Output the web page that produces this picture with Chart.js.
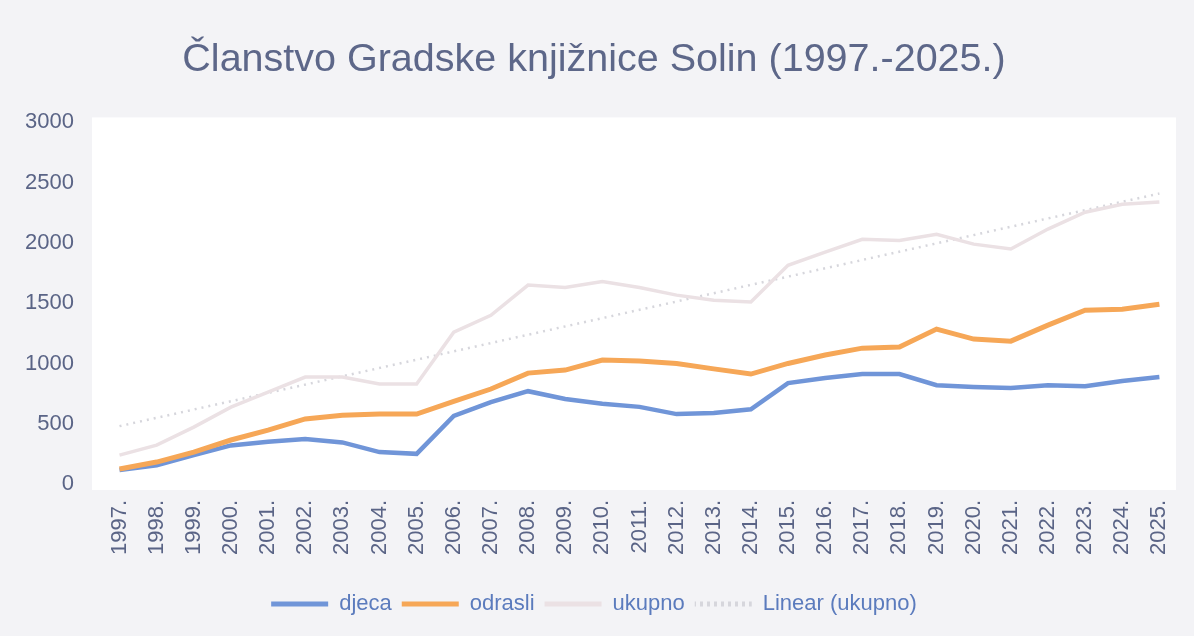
<!DOCTYPE html>
<html>
<head>
<meta charset="utf-8">
<script src="https://cdn.jsdelivr.net/npm/chart.js@4.4.1/dist/chart.umd.min.js"></script>
<style>
  html, body { margin: 0; padding: 0; background: #f3f3f6; }
  #wrap { width: 1194px; height: 636px; }
</style>
</head>
<body>
<div id="wrap"><canvas id="chart" width="1194" height="636"></canvas></div>
<script>
// godine
const years = ['1997.', '1998.', '1999.', '2000.', '2001.', '2002.', '2003.', '2004.', '2005.', '2006.',
  '2007.', '2008.', '2009.', '2010.', '2011.', '2012.', '2013.', '2014.', '2015.', '2016.',
  '2017.', '2018.', '2019.', '2020.', '2021.', '2022.', '2023.', '2024.', '2025.'];

const djeca = [116, 155, 240, 320, 350, 373, 345, 265, 250, 565,
  680, 770, 705, 665, 640, 580, 590, 620, 837, 880,
  912, 912, 820, 805, 796, 820, 812, 855, 887];

const odrasli = [125, 182, 265, 365, 447, 540, 570, 580, 580, 685,
  788, 920, 945, 1028, 1020, 1000, 955, 912, 1000, 1070,
  1127, 1136, 1285, 1202, 1185, 1318, 1442, 1450, 1492];

const ukupno = [240, 323, 472, 638, 763, 887, 887, 830, 830, 1260,
  1400, 1650, 1630, 1680, 1630, 1567, 1525, 1510, 1815, 1923,
  2030, 2020, 2072, 1990, 1950, 2115, 2255, 2320, 2340];

// trend linija (ocitano s grafa, samo krajnje tocke)
const trendUkupno = [480, null, null, null, null, null, null, null, null, null,
  null, null, null, null, null, null, null, null, null, null,
  null, null, null, null, null, null, null, null, 2410];

const yTicks = [0, 500, 1000, 1500, 2000, 2500, 3000];

const textColor = '#5a6486';

// bijela pozadina podrucja crtanja
const plotBg = {
  id: 'plotBg',
  beforeDraw(chart) {
    const { ctx, chartArea } = chart;
    ctx.save();
    ctx.fillStyle = '#ffffff';
    ctx.fillRect(chartArea.left - 9, chartArea.top - 5,
      chartArea.right - chartArea.left + 7, chartArea.bottom - chartArea.top + 11);
    ctx.restore();
  }
};

// tockasti uzorak za legendu trenda
function dotPattern(color) {
  const c = document.createElement('canvas');
  c.width = 7; c.height = 4;
  const g = c.getContext('2d');
  g.fillStyle = color;
  g.fillRect(0, 0, 3, 4);
  return g.createPattern(c, 'repeat');
}

new Chart(document.getElementById('chart'), {
  type: 'line',
  data: {
    labels: years,
    datasets: [
      {
        label: 'djeca',
        data: djeca,
        borderColor: '#7095d8',
        backgroundColor: '#7095d8',
        borderWidth: 4.5,
        pointRadius: 0,
        tension: 0,
        order: 2
      },
      {
        label: 'odrasli',
        data: odrasli,
        borderColor: '#f6a757',
        backgroundColor: '#f6a757',
        borderWidth: 5,
        pointRadius: 0,
        tension: 0,
        order: 1
      },
      {
        label: 'ukupno',
        data: ukupno,
        borderColor: '#ebe1e4',
        backgroundColor: '#ebe1e4',
        borderWidth: 3.5,
        pointRadius: 0,
        tension: 0,
        order: 3
      },
      {
        label: 'Linear (ukupno)',
        data: trendUkupno,
        borderColor: '#d6d6dc',
        backgroundColor: '#d6d6dc',
        borderWidth: 2.5,
        borderDash: [2, 5],
        pointRadius: 0,
        spanGaps: true,
        order: 4
      }
    ]
  },
  options: {
    responsive: false,
    animation: false,
    layout: { padding: { left: 6, right: 12, top: 21, bottom: 11 } },
    plugins: {
      title: {
        display: true,
        text: 'Članstvo Gradske knjižnice Solin (1997.-2025.)',
        color: '#5d6789',
        font: { family: 'Liberation Sans', size: 39.5, weight: 'normal' },
        padding: { top: 15, bottom: 39 }
      },
      legend: {
        position: 'bottom',
        labels: {
          color: '#5b7bbd',
          font: { family: 'Liberation Sans', size: 22 },
          boxWidth: 57,
          boxHeight: 5,
          padding: 10,
          sort: (a, b) => a.datasetIndex - b.datasetIndex,
          generateLabels(chart) {
            const items = Chart.defaults.plugins.legend.labels.generateLabels(chart);
            items.forEach(it => {
              const ds = chart.data.datasets[it.datasetIndex];
              it.lineWidth = 0;
              it.lineDash = [];
              it.fillStyle = ds.borderDash ? dotPattern(ds.borderColor) : ds.borderColor;
            });
            return items;
          }
        }
      },
      tooltip: { enabled: false }
    },
    scales: {
      x: {
        offset: true,
        grid: { display: false },
        border: { display: false },
        afterFit(scale) { scale.height = 99; },
        ticks: {
          color: textColor,
          font: { family: 'Liberation Sans', size: 22 },
          minRotation: 90,
          maxRotation: 90,
          autoSkip: false,
          padding: 8
        }
      },
      y: {
        min: 0,
        max: 3000,
        afterBuildTicks(scale) { scale.ticks = yTicks.map(v => ({ value: v })); },
        grid: { display: false },
        border: { display: false },
        ticks: {
          color: textColor,
          font: { family: 'Liberation Sans', size: 22 },
          padding: 19,
          callback: v => String(v)
        }
      }
    }
  },
  plugins: [plotBg]
});
</script>
</body>
</html>
